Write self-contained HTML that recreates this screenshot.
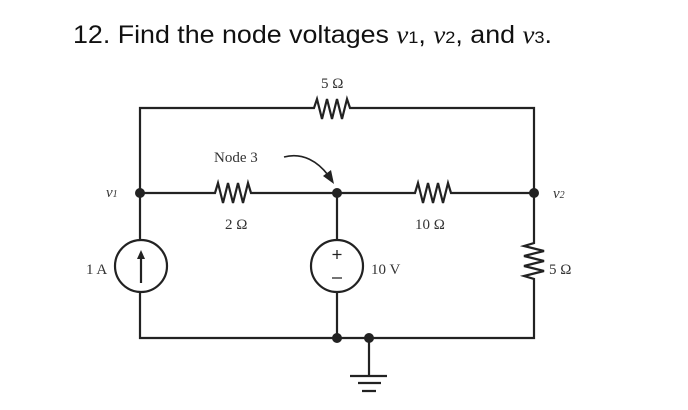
<!DOCTYPE html>
<html><head><meta charset="utf-8"><style>
html,body{margin:0;padding:0;background:#fff;}
svg{display:block;}
</style></head><body>
<svg width="688" height="410" viewBox="0 0 688 410" xmlns="http://www.w3.org/2000/svg">
<text x="73" y="43" font-family="Liberation Sans, sans-serif" font-size="25" fill="#111" textLength="479" lengthAdjust="spacingAndGlyphs">12.  Find the node voltages <tspan font-family="Liberation Serif, serif" font-style="italic">v</tspan><tspan font-size="17">1</tspan>, <tspan font-family="Liberation Serif, serif" font-style="italic">v</tspan><tspan font-size="17">2</tspan>, and <tspan font-family="Liberation Serif, serif" font-style="italic">v</tspan><tspan font-size="17">3</tspan>.</text>
<g stroke="#222" stroke-width="2.2" fill="none" stroke-linejoin="miter">
<path d="M140 193 V108 H314 l3 -9 l5 20 l5 -20 l5 20 l5 -20 l5 20 l5 -20 l3 9 H534 V193"/>
<path d="M140 193 H215 l3 -10 l5 20 l5 -20 l5 20 l5 -20 l5 20 l5 -20 l3 10 H415 l3 -10 l5 20 l5 -20 l5 20 l5 -20 l5 20 l5 -20 l3 10 H534"/>
<path d="M534 193 V243 l-10 3 l20 5 l-20 5 l20 5 l-20 5 l20 5 l-20 5 l10 3 V338 H140 V292"/>
<path d="M140 240 V193"/>
<circle cx="141" cy="266" r="26"/>
<path d="M141 283 V253"/>
<path d="M337 193 V240 M337 292 V338"/>
<circle cx="337" cy="266" r="26"/>
<path d="M337 250 v9 M332.5 254.5 h9 M332 278 h10" stroke-width="1.3"/>
<path d="M369 338 V376 M350 376 H387 M358 383 H381 M362 391 H376"/>
<path d="M284 157 C303 152 318 162 328 175" stroke-width="1.6"/>
</g>
<path d="M141 250 l-4 9 h8 z" fill="#222"/>
<path d="M334 184 L323 176 L331 170 Z" fill="#222"/>
<g fill="#222">
<circle cx="140" cy="193" r="5"/><circle cx="337" cy="193" r="5"/><circle cx="534" cy="193" r="5"/>
<circle cx="337" cy="338" r="5"/><circle cx="369" cy="338" r="5"/>
</g>
<g font-family="Liberation Serif, serif" font-size="15" fill="#333">
<text x="321" y="88">5 Ω</text>
<text x="214" y="162">Node 3</text>
<text x="225" y="229">2 Ω</text>
<text x="415" y="229">10 Ω</text>
<text x="371" y="274">10 V</text>
<text x="549" y="274">5 Ω</text>
<text x="86" y="274">1 A</text>
<text x="106" y="197" font-style="italic">v<tspan font-size="10">1</tspan></text>
<text x="553" y="198" font-style="italic">v<tspan font-size="10">2</tspan></text>
</g>
</svg>
</body></html>
